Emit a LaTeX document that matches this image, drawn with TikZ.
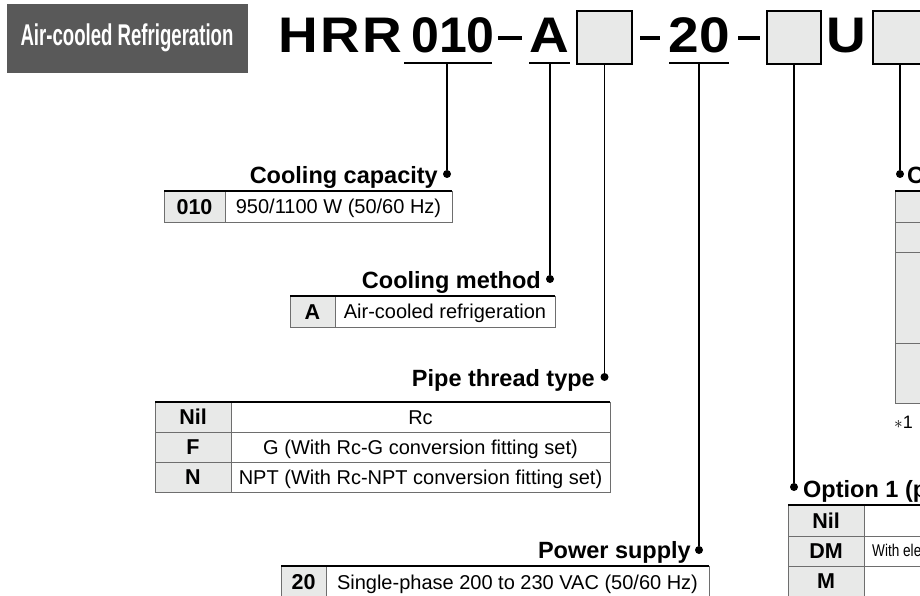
\documentclass[tikz,border=0pt]{standalone}
\usepackage{fontspec}
\setmainfont{Liberation Sans}
\usepackage{graphicx}

\definecolor{badge}{HTML}{595959}
\definecolor{cellgray}{HTML}{E8E9E8}
\definecolor{rulegray}{HTML}{6E6E6E}

\newcommand\codesize{\fontsize{50}{60}\selectfont\bfseries}
\newcommand\labelsize{\fontsize{23.5}{28}\selectfont\bfseries}
\newcommand\cellsize{\fontsize{20}{24}\selectfont}
\newcommand\wide[1]{\scalebox{1.1}[1]{#1}}

\tikzset{
  leader/.style={line width=1.3pt},
  dot/.style={circle,fill=black,inner sep=0pt,minimum size=8pt},
  lbl/.style={anchor=base east,inner sep=0pt,font=\labelsize},
  key/.style={anchor=base,inner sep=0pt,font=\fontsize{21.5}{24}\selectfont\bfseries},
  val/.style={anchor=base,inner sep=0pt,font=\cellsize},
  slot/.style={draw=black,line width=1.3pt,fill=cellgray,minimum width=55pt,minimum height=53pt,inner sep=0pt},
  grid/.style={draw=rulegray,line width=1pt},
  toprule/.style={line width=1.8pt},
}

\begin{document}
\begin{tikzpicture}[x=1pt,y=-1pt]
\useasboundingbox (0,0) rectangle (920,596);
\clip (0,0) rectangle (920,596);

% badge
\fill[badge] (7,4) rectangle (248,73);
\node[text=white,inner sep=0pt] (badge) at (127,38) {\scalebox{0.62}[1]{\fontsize{30}{36}\selectfont\bfseries Air-cooled Refrigeration}};

% model code
\node[anchor=base west,inner sep=0pt,font=\codesize] (hrr) at (278,53) {\wide{H\kern2pt R\kern2pt R}};
\node[anchor=base,inner sep=0pt,font=\codesize] (c010) at (453,53) {010};
\draw[line width=3.5pt] (498,38) -- (522,38);
\node[anchor=base,inner sep=0pt,font=\codesize] (cA) at (549,53) {\wide{A}};
\node[slot] (box1) at (604.5,37.5) {};
\draw[line width=3.5pt] (640,38) -- (660,38);
\node[anchor=base,inner sep=0pt,font=\codesize] (c20) at (699,53) {\wide{20}};
\draw[line width=3.5pt] (738,38) -- (760,38);
\node[slot,minimum width=54pt] (box2) at (794,37.5) {};
\node[anchor=base,inner sep=0pt,font=\codesize] (cU) at (846.5,53) {\wide{U}};
\node[slot,minimum width=70pt] (box3) at (908,37.5) {};

% underlines
\draw[line width=2pt] (404,63) -- (492,63);
\draw[line width=2pt] (529,63) -- (570,63);
\draw[line width=2pt] (669,63) -- (729,63);
\coordinate (u010) at (447,63);
\coordinate (uA) at (550,63);
\coordinate (u20) at (699,63);

% dots
\node[dot] (dCap) at (447,174) {};
\node[dot] (dMeth) at (550,279) {};
\node[dot] (dPipe) at (604.5,377) {};
\node[dot] (dPow) at (699,550) {};
\node[dot] (dOpt) at (794,487) {};
\node[dot] (dRight) at (900,174) {};

% leaders
\draw[leader] (u010) -- (dCap);
\draw[leader] (uA) -- (dMeth);
\draw[leader] (box1.south) -- (dPipe);
\draw[leader] (u20) -- (dPow);
\draw[leader] (box2.south) -- (dOpt);
\draw[leader] (box3.south -| dRight) -- (dRight);

% cooling capacity
\node[lbl] (lCap) at (438,183) {Cooling capacity};
\fill[cellgray] (164,191) rectangle (225,222);
\draw[grid] (164,191) rectangle (452,222) (225,191) -- (225,222);
\draw[toprule] (164,191) -- (452,191);
\node[key] (k010) at (194.5,214) {010};
\node[val] (v010) at (338.5,213.7) {950/1100 W (50/60 Hz)};

% cooling method
\node[lbl] (lMeth) at (541,288) {Cooling method};
\fill[cellgray] (290,296) rectangle (335,327);
\draw[grid] (290,296) rectangle (555,327) (335,296) -- (335,327);
\draw[toprule] (290,296) -- (555,296);
\node[key] (kA) at (312.5,319) {A};
\node[val] (vA) at (445,318.7) {Air-cooled refrigeration};

% pipe thread type
\node[lbl] (lPipe) at (595,386) {Pipe thread type};
\fill[cellgray] (155,402) rectangle (231,492);
\draw[grid] (155,402) rectangle (610,492) (231,402) -- (231,492)
  (155,432) -- (610,432) (155,462) -- (610,462);
\draw[toprule] (155,402) -- (610,402);
\node[key] (kNil) at (193,424.5) {Nil};
\node[val] (vNil) at (420.5,424.2) {Rc};
\node[key] (kF) at (193,454.5) {F};
\node[val] (vF) at (420.5,454.2) {G (With Rc-G conversion fitting set)};
\node[key] (kN) at (193,484.5) {N};
\node[val] (vN) at (420.5,484.2) {NPT (With Rc-NPT conversion fitting set)};

% power supply
\node[lbl] (lPow) at (691,558) {Power supply};
\fill[cellgray] (281,566) rectangle (326,600);
\draw[grid] (281,566) rectangle (709,600) (326,566) -- (326,600);
\draw[toprule] (281,566) -- (709,566);
\node[key] (k20) at (303.5,589) {20};
\node[val] (v20) at (517.5,589) {Single-phase 200 to 230 VAC (50/60 Hz)};

% option 1
\node[anchor=base west,inner sep=0pt,font=\labelsize] (lOpt) at (803,497) {Option 1 (p};
\fill[cellgray] (788,505) rectangle (864,600);
\draw[grid] (788,505) rectangle (930,600) (864,505) -- (864,600)
  (788,536) -- (930,536) (788,566) -- (930,566);
\draw[toprule] (788,505) -- (930,505);
\node[key] (kNil2) at (826,528) {Nil};
\node[key] (kDM) at (826,558.5) {DM};
\node[key] (kM) at (826,588.5) {M};
\node[anchor=base west,inner sep=0pt] (vDM) at (872,556) {\scalebox{0.8}[1]{\fontsize{17}{20}\selectfont With ele}};

% right table
\node[anchor=base west,inner sep=0pt,font=\labelsize] (lRight) at (907,183) {C};
\fill[cellgray] (895,191) rectangle (930,403);
\draw[grid] (895,191) rectangle (930,403)
  (895,222) -- (930,222) (895,252) -- (930,252) (895,343) -- (930,343);
\draw[toprule] (895,191) -- (930,191);
\node[anchor=base west,inner sep=0pt] (note1) at (894,428) {\fontsize{18}{20}\selectfont$\ast$1};
\end{tikzpicture}
\end{document}
